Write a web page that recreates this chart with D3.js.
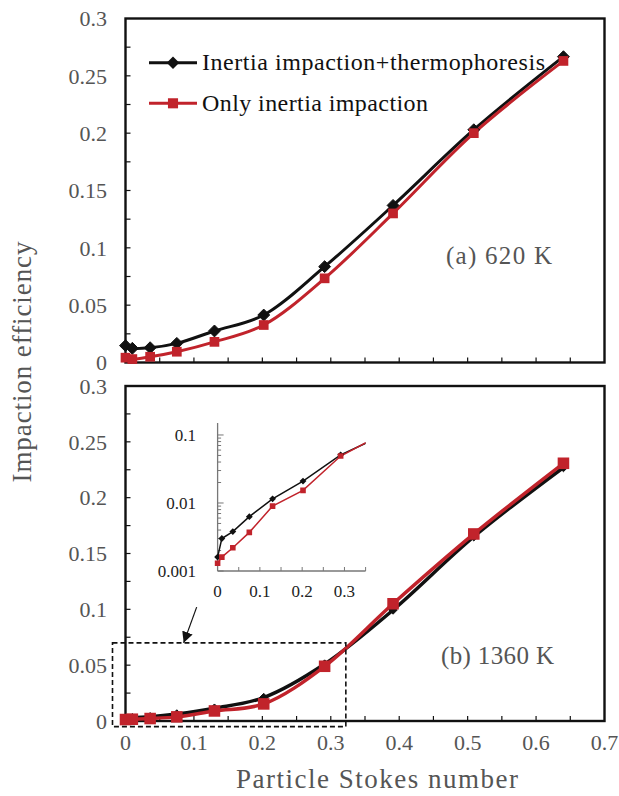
<!DOCTYPE html>
<html>
<head>
<meta charset="utf-8">
<script src="https://cdn.jsdelivr.net/npm/d3@7"></script>
<style>
  html, body { margin: 0; padding: 0; background: #fff; }
  svg { display: block; }
  text { font-family: "Liberation Serif", "Times New Roman", serif; }
</style>
</head>
<body>
<svg id="chart" width="619" height="796"></svg>
<script>
// Particle Stokes number for every simulated case
const stokes = [0, 0.01, 0.036, 0.075, 0.13, 0.202, 0.291, 0.391, 0.509, 0.64];

// (a) wall at 620 K
const thermo620  = [0.0147, 0.0124, 0.0129, 0.0167, 0.0275, 0.0414, 0.0836, 0.137, 0.203, 0.2667];
const inertia620 = [0.0042, 0.0030, 0.0050, 0.0094, 0.0180, 0.0327, 0.0734, 0.130, 0.200, 0.263];

// (b) wall at 1360 K
const thermo1360  = [0.0016, 0.0030, 0.0038, 0.0063, 0.0115, 0.0210, 0.051, 0.0994, 0.165, 0.227];
const inertia1360 = [0.0013, 0.0016, 0.0022, 0.0037, 0.0090, 0.0153, 0.049, 0.105, 0.1675, 0.2308];

// Axis ticks
const xTicks = [0, 0.1, 0.2, 0.3, 0.4, 0.5, 0.6, 0.7];
const yTicks = [0, 0.05, 0.1, 0.15, 0.2, 0.25, 0.3];
const insetXTicks = [0, 0.1, 0.2, 0.3];
const insetYTicks = [0.001, 0.01, 0.1];

// Low-Stokes region magnified in the inset: [x0, x1, y0, y1]
const zoomRegion = [-0.019, 0.322, -0.005, 0.070];

const seriesNames = ["Inertia impaction+thermophoresis", "Only inertia impaction"];
const panelLabels = ["(a) 620 K", "(b) 1360 K"];

const BLACK = "#111111";
const RED = "#c1232b";
const GREY = "#555555";

const svg = d3.select("#chart");

const x = d3.scaleLinear().domain([0, 0.7]).range([125.5, 604.5]);
const yA = d3.scaleLinear().domain([0, 0.3]).range([362.5, 18.5]);
const yB = d3.scaleLinear().domain([0, 0.3]).range([721, 386]);

const xi = d3.scaleLinear().domain([0, 0.35]).range([217.6, 365.6]);
const yi = d3.scaleLog().domain([0.001, 0.15]).range([571, 423]);

const diamond = d3.symbol().type(d3.symbolDiamond2);
const square = d3.symbol().type(d3.symbolSquare2);

function drawPanel(y, showXLabels) {
  const g = svg.append("g");
  const [x0, x1] = x.range();
  const [yb, yt] = y.range();
  // Frame
  g.append("rect")
    .attr("x", x0).attr("y", yt).attr("width", x1 - x0).attr("height", yb - yt)
    .attr("fill", "none").attr("stroke", BLACK).attr("stroke-width", 2.4);
  // Inward ticks on the bottom axis
  const xt = d3.range(0.05, 0.7, 0.05);
  g.selectAll(".xt").data(xt).join("line")
    .attr("x1", d => x(d)).attr("x2", d => x(d))
    .attr("y1", yb).attr("y2", yb - 5)
    .attr("stroke", BLACK).attr("stroke-width", 1.2);
  // Inward ticks on the left axis
  const yt2 = d3.range(0.025, 0.3, 0.025);
  g.selectAll(".yt").data(yt2).join("line")
    .attr("x1", x0).attr("x2", x0 + 5)
    .attr("y1", d => y(d)).attr("y2", d => y(d))
    .attr("stroke", BLACK).attr("stroke-width", 1.2);
  // Y tick labels
  g.selectAll(".yl").data(yTicks).join("text")
    .attr("x", 107).attr("y", d => y(d)).attr("dy", "0.35em")
    .attr("text-anchor", "end").attr("font-size", 22).attr("fill", GREY)
    .text(d => d3.format("")(d));
  if (showXLabels) {
    g.selectAll(".xl").data(xTicks).join("text")
      .attr("x", d => x(d)).attr("y", 750)
      .attr("text-anchor", "middle").attr("font-size", 22).attr("fill", GREY)
      .text(d => d3.format("")(d));
  }
  return g;
}

function drawSeries(g, y, thermo, inertia, opts) {
  const line = vals => d3.line()
    .x((d, i) => x(stokes[i])).y(d => y(d))
    .curve(d3.curveCatmullRom.alpha(0.5))(vals);
  g.append("path").attr("d", line(thermo))
    .attr("fill", "none").attr("stroke", BLACK).attr("stroke-width", opts.lw);
  g.append("path").attr("d", line(inertia))
    .attr("fill", "none").attr("stroke", RED).attr("stroke-width", opts.lw);
  g.selectAll(".dm").data(thermo).join("path")
    .attr("transform", (d, i) => `translate(${x(stokes[i])},${y(d)})`)
    .attr("d", diamond.size(opts.dSize)())
    .attr("fill", BLACK).attr("stroke", BLACK).attr("stroke-width", 1);
  g.selectAll(".sq").data(inertia).join("path")
    .attr("transform", (d, i) => `translate(${x(stokes[i])},${y(d)})`)
    .attr("d", square.size(opts.sSize)())
    .attr("fill", RED);
}

// Panel (a)
const gA = drawPanel(yA, false);
drawSeries(gA, yA, thermo620, inertia620, { lw: 3, dSize: 90, sSize: 120 });
gA.append("text").attr("x", 446).attr("y", 264)
  .attr("font-size", 25).attr("fill", GREY)
  .attr("textLength", 106).attr("lengthAdjust", "spacing")
  .text(panelLabels[0]);

// Legend
const legend = svg.append("g");
[[BLACK, diamond.size(100)(), 0], [RED, square.size(130)(), 1]].forEach(([c, sym, i]) => {
  const ly = [62.7, 103.3][i];
  legend.append("line").attr("x1", 149).attr("x2", 197).attr("y1", ly).attr("y2", ly)
    .attr("stroke", c).attr("stroke-width", 3);
  legend.append("path").attr("transform", `translate(173,${ly})`).attr("d", sym)
    .attr("fill", c);
  legend.append("text").attr("x", 202).attr("y", ly + 7.5)
    .attr("font-size", 24).attr("fill", BLACK)
    .attr("textLength", i === 0 ? 343 : 226).attr("lengthAdjust", "spacing")
    .text(seriesNames[i]);
});

// Panel (b)
const gB = drawPanel(yB, true);
drawSeries(gB, yB, thermo1360, inertia1360, { lw: 3.5, dSize: 45, sSize: 170 });
gB.append("text").attr("x", 441).attr("y", 664)
  .attr("font-size", 25).attr("fill", GREY)
  .attr("textLength", 113).attr("lengthAdjust", "spacing")
  .text(panelLabels[1]);

// Dashed outline of the magnified region and the arrow pointing at it
const [zx0, zx1, zy0, zy1] = zoomRegion;
gB.append("rect")
  .attr("x", x(zx0)).attr("y", yB(zy1))
  .attr("width", x(zx1) - x(zx0)).attr("height", yB(zy0) - yB(zy1))
  .attr("fill", "none").attr("stroke", BLACK).attr("stroke-width", 1.6)
  .attr("stroke-dasharray", "5,3");

svg.append("defs").append("marker")
  .attr("id", "arrowhead").attr("viewBox", "0 0 10 10")
  .attr("refX", 10).attr("refY", 5)
  .attr("markerWidth", 11).attr("markerHeight", 11).attr("markerUnits", "userSpaceOnUse")
  .attr("orient", "auto")
  .append("path").attr("d", "M0,0 L10,5 L0,10 Z").attr("fill", BLACK);
gB.append("line")
  .attr("x1", x(0.104)).attr("y1", yB(0.102))
  .attr("x2", x(0.085)).attr("y2", yB(zy1))
  .attr("stroke", BLACK).attr("stroke-width", 1.2)
  .attr("marker-end", "url(#arrowhead)");

// Inset: the same 1360 K data on a log scale
const gI = svg.append("g");
const INSET_AXIS = "#777";
gI.append("clipPath").attr("id", "insetClip").append("rect")
  .attr("x", xi(0) - 8).attr("y", yi.range()[1])
  .attr("width", xi(0.35) - xi(0) + 8).attr("height", yi.range()[0] - yi.range()[1] + 8);

gI.append("line").attr("x1", xi(0)).attr("x2", xi(0))
  .attr("y1", yi.range()[0]).attr("y2", yi.range()[1])
  .attr("stroke", INSET_AXIS).attr("stroke-width", 1.3);
gI.append("line").attr("x1", xi(0)).attr("x2", xi(0.35))
  .attr("y1", yi.range()[0]).attr("y2", yi.range()[0])
  .attr("stroke", INSET_AXIS).attr("stroke-width", 1.3);

const logMinor = [];
[0.001, 0.01, 0.1].forEach(dec => d3.range(1, 10).forEach(k => {
  const v = dec * k;
  if (v <= 0.15) logMinor.push({ v, major: k === 1 });
}));
gI.selectAll(".lt").data(logMinor).join("line")
  .attr("x1", xi(0)).attr("x2", d => xi(0) + (d.major ? 6 : 3.5))
  .attr("y1", d => yi(d.v)).attr("y2", d => yi(d.v))
  .attr("stroke", INSET_AXIS).attr("stroke-width", 1);
gI.selectAll(".it").data(d3.range(0.05, 0.36, 0.05)).join("line")
  .attr("x1", d => xi(d)).attr("x2", d => xi(d))
  .attr("y1", yi.range()[0]).attr("y2", yi.range()[0] - 4)
  .attr("stroke", INSET_AXIS).attr("stroke-width", 1);

gI.selectAll(".iyl").data(insetYTicks).join("text")
  .attr("x", 196).attr("y", d => yi(d)).attr("dy", "0.35em")
  .attr("text-anchor", "end").attr("font-size", 17).attr("fill", "#222")
  .text(d => String(d));
gI.selectAll(".ixl").data(insetXTicks).join("text")
  .attr("x", d => xi(d)).attr("y", 597)
  .attr("text-anchor", "middle").attr("font-size", 17).attr("fill", "#222")
  .text(d => String(d));

const inner = gI.append("g").attr("clip-path", "url(#insetClip)");
const iLine = vals => d3.line()
  .x((d, i) => xi(stokes[i])).y(d => yi(d))(vals);
inner.append("path").attr("d", iLine(thermo1360))
  .attr("fill", "none").attr("stroke", BLACK).attr("stroke-width", 1.5);
inner.append("path").attr("d", iLine(inertia1360))
  .attr("fill", "none").attr("stroke", RED).attr("stroke-width", 1.5);
inner.selectAll(".idm").data(thermo1360.slice(0, 7)).join("path")
  .attr("transform", (d, i) => `translate(${xi(stokes[i])},${yi(d)})`)
  .attr("d", diamond.size(30)()).attr("fill", BLACK);
inner.selectAll(".isq").data(inertia1360.slice(0, 7)).join("path")
  .attr("transform", (d, i) => `translate(${xi(stokes[i])},${yi(d)})`)
  .attr("d", square.size(40)()).attr("fill", RED);

// Axis titles
svg.append("text").attr("x", 377).attr("y", 788)
  .attr("text-anchor", "middle").attr("font-size", 27).attr("fill", GREY)
  .attr("textLength", 282).attr("lengthAdjust", "spacing")
  .text("Particle Stokes number");
svg.append("text")
  .attr("transform", "translate(31,362) rotate(-90)")
  .attr("text-anchor", "middle").attr("font-size", 27).attr("fill", GREY)
  .attr("textLength", 241).attr("lengthAdjust", "spacing")
  .text("Impaction efficiency");
</script>
</body>
</html>
